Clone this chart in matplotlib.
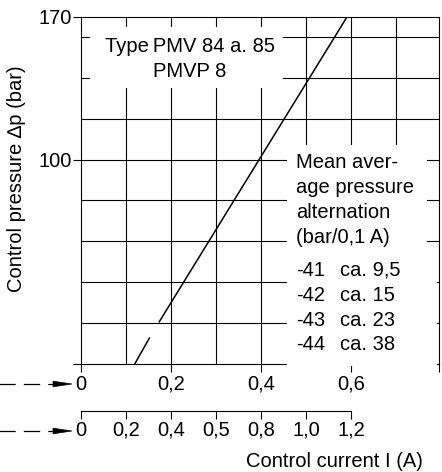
import matplotlib.pyplot as plt
from matplotlib.lines import Line2D
from matplotlib.patches import Polygon, Rectangle

plt.rcParams["font.family"] = ["Liberation Sans", "DejaVu Sans"]

# characteristic curve
current_dashed = [0.12, 0.152]
pressure_dashed = [0, 12.5]
current_solid = [0.174, 0.591]
pressure_solid = [20.5, 170]

# first current scale (main axis)
main_ticks = [0, 0.2, 0.4, 0.6]
main_labels = ["0", "0,2", "0,4", "0,6"]
# second current scale
second_ticks = [0, 0.1, 0.2, 0.3, 0.4, 0.5, 0.6]
second_labels = ["0", "0,2", "0,4", "0,5", "0,8", "1,0", "1,2"]

y_ticks = [0, 100, 170]
y_labels = ["", "100", "170"]

header_lines = ["Mean aver-", "age pressure", "alternation", "(bar/0,1 A)"]
variants = ["-41", "-42", "-43", "-44"]
alternation = ["ca. 9,5", "ca. 15", "ca. 23", "ca. 38"]

W, H = 442, 472
XMAX = 0.795
FS = 14.5


def fx(px):
    return px / W


def fy(py):
    return 1 - py / H


fig = plt.figure(figsize=(W / 100, H / 100), dpi=100)
ax = fig.add_axes([fx(81), fy(363.5), fx(438.75) - fx(81), fy(17) - fy(363.5)])

ax.set_xlim(0, XMAX)
ax.set_ylim(0, 170)

# grid
for gx in [0.1, 0.2, 0.3, 0.4, 0.5, 0.6, 0.7]:
    ax.axvline(gx, color="k", lw=0.8, zorder=1)
for gy in range(20, 170, 20):
    ax.axhline(gy, color="k", lw=0.8, zorder=1)

ax.plot(current_dashed, pressure_dashed, color="k", lw=1.1, zorder=2)
ax.plot(current_solid, pressure_solid, color="k", lw=1.1, zorder=2)

for s in ax.spines.values():
    s.set_linewidth(0.8)

ax.set_xticks(main_ticks + [XMAX])
ax.set_xticklabels(main_labels + [""])
ax.set_yticks(y_ticks)
ax.set_yticklabels(y_labels)
ax.tick_params(axis="x", direction="out", length=5.5, width=0.8, pad=2.5,
               labelsize=FS)
ax.tick_params(axis="y", direction="out", length=6, width=0.8, pad=0.5,
               labelsize=FS)

# white boxes behind the texts
ax.add_patch(Rectangle((0.02, 135.3), 0.429, 29.9, facecolor="white",
                       edgecolor="none", zorder=2.6))
ax.add_patch(Rectangle((0.458, 50), 0.311, 57, facecolor="white",
                       edgecolor="none", zorder=2.6))
ax.add_patch(Rectangle((0.458, -1.2), XMAX - 0.0035 - 0.458, 51.5,
                       facecolor="white", edgecolor="none", zorder=2.6,
                       clip_on=False))

ax.text(0.242, 152.9, "Type\u2009PMV 84 a. 85", ha="center", va="baseline",
        fontsize=FS, zorder=3)
ax.text(0.242, 140.7, "PMVP 8", ha="center", va="baseline",
        fontsize=FS, zorder=3)

for line, yb in zip(header_lines, [96.1, 83.8, 71.6, 59.3]):
    ax.text(0.478, yb, line, ha="left", va="baseline", fontsize=FS, zorder=3)
for v, a, yb in zip(variants, alternation, [43.1, 30.9, 18.6, 6.4]):
    ax.text(0.478, yb, v, ha="left", va="baseline", fontsize=FS, zorder=3)
    ax.text(0.5756, yb, a, ha="left", va="baseline", fontsize=FS, zorder=3)

# second current scale below
ax2 = fig.add_axes([fx(81), fy(411), fx(438.75) - fx(81), 0.0001])
ax2.set_xlim(0, XMAX)
ax2.patch.set_visible(False)
for name in ["top", "left", "right"]:
    ax2.spines[name].set_visible(False)
ax2.spines["bottom"].set_bounds(0, 0.6)
ax2.spines["bottom"].set_linewidth(0.8)
ax2.set_yticks([])
ax2.set_xticks(second_ticks)
ax2.set_xticklabels(second_labels)
ax2.tick_params(axis="x", direction="out", length=5.5, width=0.8, pad=1.5,
                labelsize=FS)

# dashed arrows pointing at the two scales
for yp in [384, 431]:
    fig.add_artist(Line2D([fx(-11), fx(55)], [fy(yp), fy(yp)], color="k",
                          lw=0.9, ls=(0, (13, 6.5))))
    fig.add_artist(Polygon([[fx(53), fy(yp - 2.8)], [fx(72), fy(yp)],
                            [fx(53), fy(yp + 2.8)]], closed=True,
                           facecolor="k", edgecolor="k", lw=0.5,
                           transform=fig.transFigure))

fig.text(fx(17), fy(179), "Control pressure \u2206p (bar)", rotation=90,
         ha="center", va="center", fontsize=FS)
fig.text(fx(423), fy(467), "Control current I (A)", ha="right",
         va="baseline", fontsize=FS)

fig.savefig("out.png", dpi=100)
